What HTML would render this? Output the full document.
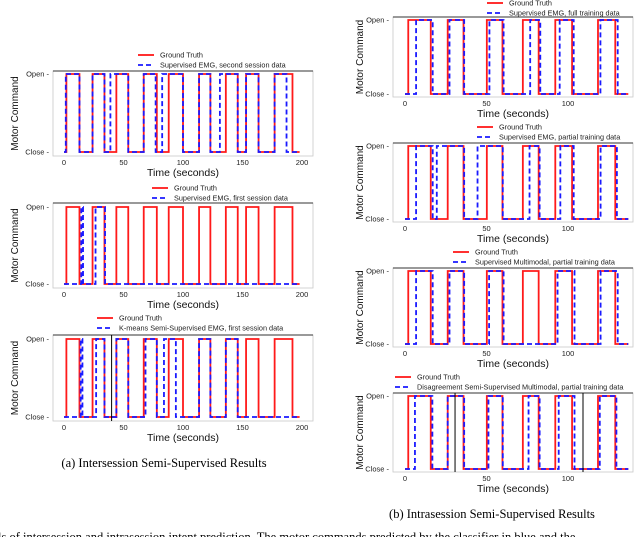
<!DOCTYPE html>
<html><head><meta charset="utf-8"><style>
html,body{margin:0;padding:0;background:#fff;width:640px;height:537px;overflow:hidden}
svg{display:block}
</style></head><body>
<svg id="fig" width="640" height="537" viewBox="0 0 640 537" xmlns="http://www.w3.org/2000/svg">
<text x="164" y="467" font-family="Liberation Serif, serif" font-size="12.5" text-anchor="middle">(a)  Intersession Semi-Supervised Results</text>
<text x="492" y="518" font-family="Liberation Serif, serif" font-size="12.5" text-anchor="middle">(b)  Intrasession Semi-Supervised Results</text>
<text x="-2" y="541" font-family="Liberation Serif, serif" font-size="12.5">ls of intersession and intrasession intent prediction. The motor commands predicted by the classifier in blue and the</text>
</svg>
<script>
// Ground truth toggle times (state starts Close, toggles at each time)
const gtLeft = [2,13,24,34,44,54,67,78,88,100,113.5,123,136,146,153,163.5,177,192];
const gtRight = [2,15.8,26.2,35.9,50.2,59.8,72.3,82,92.2,102.5,118.4,129];
// Prediction series toggle times
const predA1 = [1.5,13,24,34,39,54,67,77,82.5,100,113.5,123,131,146,153,163.5,177,187];
const predA2 = [14.5,16,26.5,34.5];
const predA3 = [14,15.5,27,34,44,54,68.5,78,84,94,113.5,123,136,146];
const predB1 = [6.8,17,27.3,36.3,51.8,60.5,76.8,83,94.9,103.5,119.9,130.5];
const predB2 = [6.8,17,19.5,36.3,44.5,60,76.4,82.6,95.3,103.5,120,130];
const predB3 = [6.8,17,27.3,36.3,51.6,60.5,93.6,104,120,130.5];
const predB4 = [6.1,16.8,26.2,36.3,51.2,60,75.8,82.6,94.3,104,119.5,129.7];
const vlinesA3 = [40];
const vlinesB4 = [30.7,109.2];
const ticksLeft = [0,50,100,150,200];
const ticksRight = [0,50,100];
const legendLabels = ["Supervised EMG, second session data","Supervised EMG, first session data","K-means Semi-Supervised EMG, first session data","Supervised EMG, full training data","Supervised EMG, partial training data","Supervised Multimodal, partial training data","Disagreement Semi-Supervised Multimodal, partial training data"];

const NS="http://www.w3.org/2000/svg";
const svg=document.getElementById('fig');
function mk(tag,attrs,parent){const e=document.createElementNS(NS,tag);for(const k in attrs)e.setAttribute(k,attrs[k]);(parent||svg).appendChild(e);return e;}

const panels=[
 {id:'a1',L:53,R:313,x0:64,xs:1.19,tmax:198,open:74,close:152,top:71,bot:156,gt:gtLeft,pred:predA1,ticks:ticksLeft,lab:legendLabels[0],lx:138,ly:55,vl:[],yl:18},
 {id:'a2',L:53,R:313,x0:64,xs:1.19,tmax:198,open:207,close:284,top:203,bot:288,gt:gtLeft,pred:predA2,ticks:ticksLeft,lab:legendLabels[1],lx:152,ly:188,vl:[],yl:18},
 {id:'a3',L:53,R:313,x0:64,xs:1.19,tmax:198,open:339,close:417,top:335,bot:421,gt:gtLeft,pred:predA3,ticks:ticksLeft,lab:legendLabels[2],lx:97,ly:318,vl:vlinesA3,yl:18},
 {id:'b1',L:393,R:633,x0:405,xs:1.63,tmax:137,open:20,close:94,top:17,bot:97,gt:gtRight,pred:predB1,ticks:ticksRight,lab:legendLabels[3],lx:487,ly:3,vl:[],yl:363},
 {id:'b2',L:393,R:633,x0:405,xs:1.63,tmax:137,open:146,close:219,top:143,bot:222,gt:gtRight,pred:predB2,ticks:ticksRight,lab:legendLabels[4],lx:477,ly:127,vl:[],yl:363},
 {id:'b3',L:393,R:633,x0:405,xs:1.63,tmax:137,open:271,close:344,top:268,bot:347,gt:gtRight,pred:predB3,ticks:ticksRight,lab:legendLabels[5],lx:453,ly:252,vl:[],yl:363},
 {id:'b4',L:393,R:633,x0:405,xs:1.63,tmax:137,open:396,close:469,top:393,bot:472,gt:gtRight,pred:predB4,ticks:ticksRight,lab:legendLabels[6],lx:395,ly:377,vl:vlinesB4,yl:363}
];

function stepPath(p,times){
  const X=t=>p.x0+t*p.xs;
  let state=0,d='M'+X(0)+','+p.close;
  times.forEach(t=>{const y0=state?p.open:p.close;state=1-state;const y1=state?p.open:p.close;d+=' L'+X(t)+','+y0+' L'+X(t)+','+y1;});
  d+=' L'+X(p.tmax)+','+(state?p.open:p.close);
  return d;
}

panels.forEach(p=>{
  const g=mk('g',{});
  
  
  const fr=mk('rect',{x:p.L,y:p.top,width:p.R-p.L,height:p.bot-p.top,fill:'none',stroke:'#c8c8c8','stroke-width':0.8},g);
  
  
  const tl=mk('line',{x1:p.L,x2:p.R,y1:p.top,y2:p.top,stroke:'#333','stroke-width':0.9},g);
  
  
  const gtP=mk('path',{d:stepPath(p,p.gt),fill:'none',stroke:'#ff1a1a','stroke-width':1.8},g);
  
  
  const pr=mk('path',{d:stepPath(p,p.pred),fill:'none',stroke:'#1a1aff','stroke-width':1.8,'stroke-dasharray':'5,3'},g);
  
  
  p.vl.forEach(t=>{
    const v=mk('line',{x1:p.x0+t*p.xs,x2:p.x0+t*p.xs,y1:p.top,y2:p.bot,stroke:'#000','stroke-width':1},g);
    
    
  });
  p.ticks.forEach(t=>{
    const x=p.x0+t*p.xs;
    const tk=mk('text',{x:x,y:p.bot+9,'font-family':'Liberation Sans, sans-serif','font-size':7.5,'text-anchor':'middle',fill:'#222'},g);
    tk.textContent=t;
    
    
  });
  [['Open',p.open],['Close',p.close]].forEach(([s,y])=>{
    const t=mk('text',{x:p.L-4,y:y+2.5,'font-family':'Liberation Sans, sans-serif','font-size':7.5,'text-anchor':'end',fill:'#222'},g);
    t.textContent=s+' -';
    
    
  });
  const xl=mk('text',{x:(p.L+p.R)/2,y:p.bot+20,'font-family':'Liberation Sans, sans-serif','font-size':10.5,'text-anchor':'middle',fill:'#111'},g);
  xl.textContent='Time (seconds)';
  
  
  const cy=(p.top+p.bot)/2;
  const yl=mk('text',{x:p.yl,y:cy,'font-family':'Liberation Sans, sans-serif','font-size':10,'text-anchor':'middle',fill:'#111',transform:'rotate(-90 '+p.yl+' '+cy+')'},g);
  yl.textContent='Motor Command';
  
  
  // legend
  const l1=mk('line',{x1:p.lx,x2:p.lx+16,y1:p.ly,y2:p.ly,stroke:'#ff1a1a','stroke-width':1.8},g);
  
  
  const t1=mk('text',{x:p.lx+22,y:p.ly+2.5,'font-family':'Liberation Sans, sans-serif','font-size':7.3,fill:'#222'},g);
  t1.textContent='Ground Truth';
  
  
  const l2=mk('line',{x1:p.lx,x2:p.lx+16,y1:p.ly+10,y2:p.ly+10,stroke:'#1a1aff','stroke-width':1.8,'stroke-dasharray':'5,3'},g);
  
  
  const t2=mk('text',{x:p.lx+22,y:p.ly+12.5,'font-family':'Liberation Sans, sans-serif','font-size':7.3,fill:'#222'},g);
  t2.textContent=p.lab;
  
  
});
</script>
</body></html>
